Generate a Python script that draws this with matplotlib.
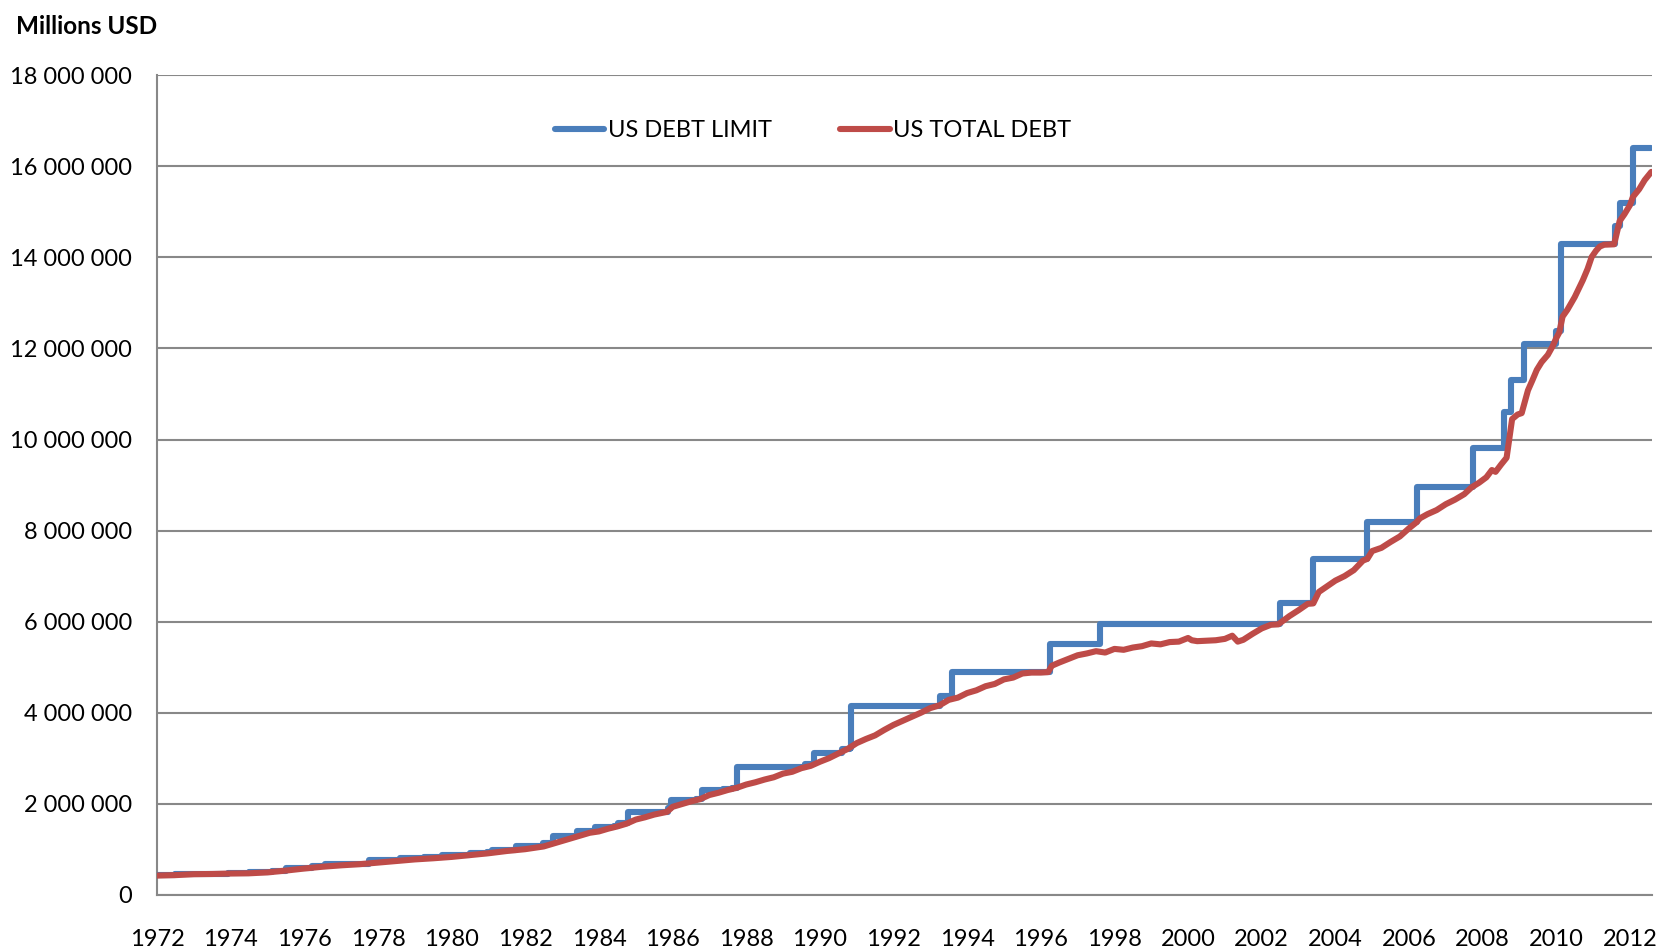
import matplotlib
matplotlib.use("Agg")
import matplotlib.pyplot as plt
from matplotlib.ticker import FuncFormatter

plt.rcParams['font.family'] = ['Lato', 'DejaVu Sans']

# debt limit: date it took effect (decimal year) and level in millions USD
limit_dates = [1972.0, 1972.5, 1972.82, 1973.92, 1974.5, 1975.13, 1975.5, 1975.87,
               1976.2, 1976.5, 1976.55, 1977.76, 1978.59, 1979.25, 1979.75, 1980.49,
               1980.97, 1981.1, 1981.75, 1982.49, 1982.75, 1983.4, 1983.89, 1984.4,
               1984.51, 1984.79, 1985.87, 1985.95, 1986.64, 1986.8, 1987.37, 1987.61,
               1987.74, 1989.6, 1989.85, 1990.6, 1990.82, 1990.84, 1993.26, 1993.6,
               1996.24, 1997.6, 2002.49, 2003.4, 2004.87, 2006.21, 2007.74, 2008.58,
               2008.76, 2009.13, 2009.99, 2010.12, 2011.59, 2011.72, 2012.08, 2012.58]
limit_values = [430000, 450000, 465000, 475700, 495000, 531000, 577000, 595000,
                627000, 636000, 682000, 752000, 798000, 830000, 879000, 925000,
                935100, 985000, 1079800, 1143100, 1290200, 1389000, 1490000, 1520000,
                1573000, 1823800, 1903800, 2078700, 2111000, 2300000, 2320000, 2352000,
                2800000, 2870000, 3122700, 3195000, 3230000, 4145000, 4370000, 4900000,
                5500000, 5950000, 6400000, 7384000, 8184000, 8965000, 9815000, 10615000,
                11315000, 12104000, 12394000, 14294000, 14694000, 15194000, 16394000, 16394000]

# total debt (subject to limit), millions USD
debt_dates = [1972.0, 1972.5, 1973.0, 1973.5, 1974.0, 1974.5, 1975.0, 1975.5,
              1976.0, 1976.5, 1977.0, 1977.5, 1978.0, 1978.5, 1979.0, 1979.5,
              1980.0, 1980.5, 1981.0, 1981.5, 1982.0, 1982.5, 1982.75, 1983.0,
              1983.25, 1983.5, 1983.75, 1984.0, 1984.25, 1984.5, 1984.75, 1985.0,
              1985.25, 1985.5, 1985.85, 1986.0, 1986.25, 1986.5, 1986.75, 1987.0,
              1987.25, 1987.5, 1987.75, 1988.0, 1988.25, 1988.5, 1988.75, 1989.0,
              1989.25, 1989.5, 1989.75, 1990.0, 1990.25, 1990.5, 1990.75, 1991.0,
              1991.25, 1991.5, 1991.75, 1992.0, 1992.25, 1992.5, 1992.75, 1993.0,
              1993.25, 1993.5, 1993.75, 1994.0, 1994.25, 1994.5, 1994.75, 1995.0,
              1995.25, 1995.5, 1995.75, 1996.0, 1996.2, 1996.3, 1996.5, 1996.75,
              1997.0, 1997.25, 1997.5, 1997.75, 1998.0, 1998.25, 1998.5, 1998.75,
              1999.0, 1999.25, 1999.5, 1999.75, 2000.0, 2000.1, 2000.25, 2000.5,
              2000.75, 2001.0, 2001.2, 2001.35, 2001.5, 2001.75, 2002.0, 2002.25,
              2002.45, 2002.55, 2002.75, 2003.0, 2003.25, 2003.4, 2003.55, 2003.75,
              2004.0, 2004.25, 2004.5, 2004.75, 2004.87, 2005.0, 2005.25, 2005.5,
              2005.75, 2006.0, 2006.2, 2006.3, 2006.5, 2006.75, 2007.0, 2007.25,
              2007.5, 2007.7, 2007.9, 2008.1, 2008.25, 2008.35, 2008.5, 2008.65,
              2008.8, 2008.95, 2009.06, 2009.23, 2009.35, 2009.47, 2009.6, 2009.77,
              2009.9, 2010.0, 2010.08, 2010.17, 2010.3, 2010.5, 2010.6, 2010.72,
              2010.85, 2010.96, 2011.08, 2011.18, 2011.3, 2011.57, 2011.72, 2011.85,
              2012.0, 2012.08, 2012.25, 2012.4, 2012.58]
debt_values = [420000, 430000, 450000, 455000, 465000, 470000, 490000, 530000,
               575000, 615000, 645000, 670000, 705000, 740000, 775000, 800000,
               830000, 870000, 910000, 960000, 1000000, 1060000, 1120000, 1180000,
               1240000, 1300000, 1360000, 1390000, 1450000, 1500000, 1560000, 1650000,
               1700000, 1760000, 1820000, 1930000, 1990000, 2050000, 2100000, 2190000,
               2240000, 2300000, 2350000, 2420000, 2470000, 2530000, 2580000, 2660000,
               2700000, 2780000, 2830000, 2920000, 3000000, 3100000, 3200000, 3330000,
               3420000, 3500000, 3620000, 3730000, 3820000, 3910000, 4000000, 4100000,
               4160000, 4280000, 4330000, 4430000, 4490000, 4580000, 4630000, 4730000,
               4770000, 4860000, 4880000, 4880000, 4890000, 5030000, 5100000, 5180000,
               5260000, 5300000, 5350000, 5320000, 5400000, 5380000, 5430000, 5460000,
               5520000, 5500000, 5550000, 5560000, 5640000, 5590000, 5570000, 5580000,
               5590000, 5620000, 5690000, 5560000, 5600000, 5730000, 5850000, 5930000,
               5940000, 6000000, 6120000, 6250000, 6390000, 6400000, 6650000, 6760000,
               6900000, 7000000, 7130000, 7340000, 7380000, 7550000, 7620000, 7750000,
               7870000, 8050000, 8180000, 8270000, 8360000, 8450000, 8580000, 8680000,
               8800000, 8950000, 9050000, 9170000, 9330000, 9290000, 9450000, 9600000,
               10450000, 10550000, 10580000, 11080000, 11300000, 11530000, 11700000, 11860000,
               12050000, 12230000, 12350000, 12700000, 12850000, 13130000, 13300000, 13500000,
               13750000, 14010000, 14150000, 14240000, 14280000, 14290000, 14800000, 14950000,
               15150000, 15330000, 15500000, 15700000, 15880000]

year_ticks = list(range(1972, 2013, 2))
y_ticks = list(range(0, 18000001, 2000000))

blue = '#4A7EBB'
red = '#BE4B48'
grid_gray = '#888888'

fig = plt.figure(figsize=(16.65, 9.52), dpi=100)
ax = fig.add_axes([0.0943, 0.0602, 0.8977, 0.8606])

ax.plot(limit_dates, limit_values, color=blue, lw=4.4, drawstyle='steps-post',
        solid_capstyle='round', label='US DEBT LIMIT', zorder=3)
ax.plot(debt_dates, debt_values, color=red, lw=4.4, solid_capstyle='round',
        solid_joinstyle='round', label='US TOTAL DEBT', zorder=4)

ax.set_xlim(1972.0, 2012.59)
ax.set_ylim(0, 18000000)
ax.set_xticks(year_ticks)
ax.set_yticks(y_ticks)
ax.yaxis.set_major_formatter(FuncFormatter(lambda v, p: f"{int(v):,}".replace(",", " ")))
ax.tick_params(axis='both', length=0, labelsize=17, colors='black')
ax.tick_params(axis='x', pad=25)
ax.tick_params(axis='y', pad=18)

ax.grid(axis='y', color=grid_gray, lw=1.5)
ax.set_axisbelow(True)
for side in ['top', 'right']:
    ax.spines[side].set_visible(False)
for side in ['left', 'bottom']:
    ax.spines[side].set_color(grid_gray)
    ax.spines[side].set_linewidth(1.5)

ax.legend(loc='center', bbox_to_anchor=(0.439, 0.933), ncol=2, frameon=False,
          fontsize=17, handlelength=2.1, handletextpad=0.15, columnspacing=2.9)

fig.text(0.0096, 0.972, 'Millions USD', fontsize=17.5, fontweight='bold', va='center', ha='left')

fig.savefig('out.png', dpi=100)
